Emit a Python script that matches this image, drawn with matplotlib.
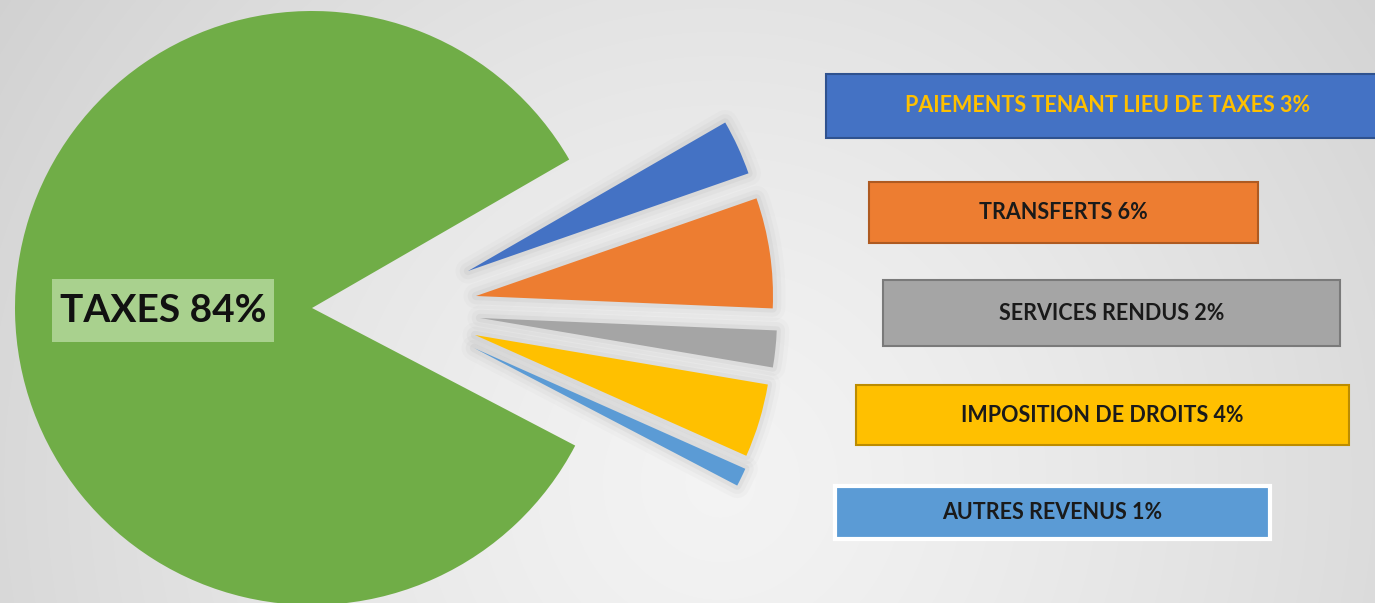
import numpy as np
import matplotlib
matplotlib.use("Agg")
import matplotlib.pyplot as plt
import matplotlib.patheffects as pe
from matplotlib.patches import Rectangle, Wedge

plt.rcParams['font.family'] = ['Lato', 'DejaVu Sans']

# Data (pie order, counter-clockwise starting at the top edge of TAXES)
categories = ["TAXES", "AUTRES REVENUS", "IMPOSITION DE DROITS",
              "SERVICES RENDUS", "TRANSFERTS", "PAIEMENTS TENANT LIEU DE TAXES"]
values = [84, 1, 4, 2, 6, 3]
colors = ["#70AD47", "#5B9BD5", "#FFC000", "#A5A5A5", "#ED7D31", "#4472C4"]

# layout (pixel coords, y measured from the top)
W, H = 1375, 603
pie_center = (312, H - 308)
pie_radius = 297
# shift of each small wedge away from the pie centre (px, y up)
shifts = [(0, 0), (162, -40), (163, -27), (168, -10), (164, 12), (156, 37)]
# label boxes: x0, x1, y_top, y_bottom, edge colour, text colour
boxes = [
    None,
    (835, 1270, 486, 539, "white", "#1a1a1a"),
    (856, 1349, 385, 445, "#BC8C00", "#1a1a1a"),
    (883, 1340, 280, 346, "#7A7A7A", "#1a1a1a"),
    (869, 1258, 182, 243, "#AE5A21", "#1a1a1a"),
    (826, 1390, 74, 138, "#2F528F", "#FFC000"),
]

fig = plt.figure(figsize=(W / 100, H / 100), dpi=100)
ax = fig.add_axes([0, 0, 1, 1])

# soft radial background
xx, yy = np.meshgrid(np.arange(W), np.arange(H))
d = np.hypot(xx - 720, yy - 120) / 900
bg = np.clip(0.955 - 0.14 * d ** 1.3, 0, 1)
ax.imshow(np.dstack([bg, bg, bg]), extent=[0, W, H, 0], zorder=0, aspect="auto")

wedges, _ = ax.pie(values, colors=colors, startangle=30, counterclock=True,
                   center=pie_center, radius=pie_radius, frame=True,
                   wedgeprops=dict(linewidth=0, zorder=3))
ax.set_xlim(0, W)
ax.set_ylim(0, H)
ax.axis("off")

shadow = [pe.Stroke(linewidth=18, foreground="#8c8c8c", alpha=0.04, joinstyle="round"),
          pe.Stroke(linewidth=12, foreground="#8c8c8c", alpha=0.06, joinstyle="round"),
          pe.Stroke(linewidth=6, foreground="#8c8c8c", alpha=0.09, joinstyle="round")]

for i, w in enumerate(wedges):
    cx, cy = w.center
    w.set_center((cx + shifts[i][0], cy + shifts[i][1]))
    if i > 0:
        sh = Wedge(w.center, w.r, w.theta1, w.theta2, facecolor="none",
                   edgecolor="none", zorder=2)
        sh.set_path_effects(shadow)
        ax.add_patch(sh)

# TAXES label
ax.add_patch(Rectangle((52, H - 342), 222, 63, facecolor="#A9D18E",
                       edgecolor="none", zorder=4))
ax.text(163, H - 310, f"{categories[0]} {values[0]}%", ha="center", va="center",
        fontsize=28, fontweight="bold", color="#111111", zorder=5)

for i in range(1, len(values)):
    x0, x1, yt, yb, ec, tc = boxes[i]
    lw = 3 if ec == "white" else 1.5
    ax.add_patch(Rectangle((x0, H - yb), x1 - x0, yb - yt, facecolor=colors[i],
                           edgecolor=ec, linewidth=lw, zorder=4))
    ax.text((x0 + x1) / 2, H - (yt + yb) / 2, f"{categories[i]} {values[i]}%",
            ha="center", va="center", fontsize=15.5, fontweight="bold",
            color=tc, zorder=5)

fig.savefig("out.png", dpi=100)
